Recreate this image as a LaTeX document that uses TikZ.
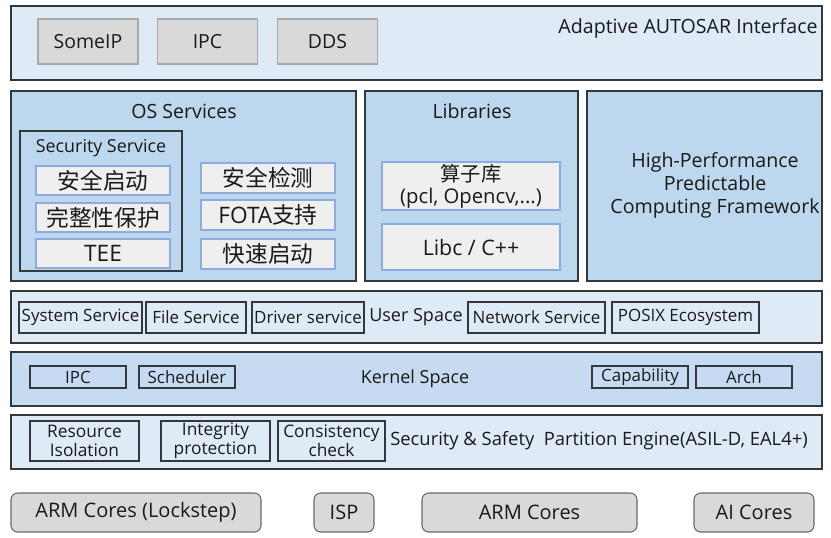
\documentclass[tikz,border=0pt]{standalone}
\usepackage{fontspec}
\setmainfont{Open Sans}
\newfontfamily\cjk{Noto Sans CJK SC}
\usetikzlibrary{positioning}
\definecolor{ink}{HTML}{1A1A1A}
\definecolor{edge}{HTML}{33383D}
\definecolor{paleblue}{HTML}{DEEBF7}
\definecolor{midblue}{HTML}{BDD7EE}
\definecolor{kernblue}{HTML}{C6DAF1}
\definecolor{chipgray}{HTML}{D9D9D9}
\definecolor{chipedge}{HTML}{A8A8A8}
\definecolor{cellgray}{HTML}{EFEFEF}
\definecolor{celledge}{HTML}{8FAADC}

\tikzset{
  sz/.style 2 args={minimum width=#1*0.75pt, minimum height=#2*0.75pt},
  layer/.style={draw=edge, line width=1pt, inner sep=0pt},
  api/.style={fill=chipgray, draw=chipedge, line width=0.8pt, inner sep=0pt, font=\fontsize{14.6}{16}\selectfont},
  cell/.style={fill=cellgray, draw=celledge, line width=0.8pt, inner sep=0pt, font=\fontsize{17}{18}\selectfont},
  tag/.style={draw=edge, line width=0.8pt, inner sep=0pt, font=\fontsize{12.7}{14.2}\selectfont},
  core/.style={fill=chipgray, draw=edge!75, line width=0.8pt, rounded corners=5pt, inner sep=0pt, font=\fontsize{15}{16}\selectfont},
  title/.style={font=\fontsize{14.7}{17.3}\selectfont, align=center},
  plain/.style={font=\fontsize{13.5}{15}\selectfont}
}

\begin{document}
\begin{tikzpicture}[x=0.75pt, y=-0.75pt, text=ink]
    \useasboundingbox (0,0) rectangle (831,537);
    % Adaptive AUTOSAR interface
    \node[layer, fill=paleblue, sz={811}{74}] (aai) at (416.5,43) {};
    \node[title] (aaiT) at (688,28) {Adaptive AUTOSAR Interface};
    \node[api, sz={100}{45}] (someip) at (88,41.5) {SomeIP};
    \node[api, sz={100}{45}] (ipc) at (207.5,41.5) {IPC};
    \node[api, sz={100}{45}] (dds) at (327.5,41.5) {DDS};

    % OS services
    \node[layer, fill=midblue, sz={345}{190}] (os) at (183.5,186) {};
    \node[title] (osT) at (184,111) {OS Services};
    \node[layer, fill=midblue, sz={162}{140}] (sec) at (101,201) {};
    \node[title, font=\fontsize{13.4}{15}\selectfont] (secT) at (101,148) {Security Service};
    \node[cell, sz={134}{29}] (boot) at (103,180.5) {\cjk 安全启动};
    \node[cell, sz={134}{29}] (integ) at (103,217.5) {\cjk 完整性保护};
    \node[cell, sz={134}{29}] (tee) at (103,253.5) {TEE};
    \node[cell, sz={134}{30}] (detect) at (268,178) {\cjk 安全检测};
    \node[cell, sz={134}{30}] (fota) at (268,215) {FOTA{\cjk 支持}};
    \node[cell, sz={134}{30}] (fast) at (268,254) {\cjk 快速启动};

    % Libraries
    \node[layer, fill=midblue, sz={213}{190}] (lib) at (471.5,186) {};
    \node[title] (libT) at (472,111) {Libraries};
    \node[cell, sz={178}{48}, align=center, font=\fontsize{15.2}{16.5}\selectfont] (ops) at (471,186) {{\cjk 算子库}\\(pcl, Opencv,...)};
    \node[cell, sz={178}{46}, font=\fontsize{16}{17}\selectfont] (libc) at (471,247) {Libc / C++};

    % HPC framework
    \node[layer, fill=midblue, sz={235}{190}] (hpc) at (704.5,186) {};
    \node[title] (hpcT) at (715,185) {High-Performance\\Predictable\\Computing Framework};

    % user space
    \node[layer, fill=paleblue, sz={811}{52}] (user) at (416.5,317) {};
    \node[tag, sz={123}{31}] (sys) at (80.5,317.5) {System Service};
    \node[tag, sz={100}{31}] (file) at (196,317.5) {File Service};
    \node[tag, sz={112}{31}] (drv) at (308,317.5) {Driver service};
    \node[plain] (userT) at (416,317.5) {User Space};
    \node[tag, sz={137}{31}] (net) at (536.5,317.5) {Network Service};
    \node[tag, sz={147}{31}] (posix) at (685.5,317.5) {POSIX Ecosystem};

    % kernel space
    \node[layer, fill=kernblue, sz={811}{54}] (kern) at (416.5,379) {};
    \node[tag, sz={96}{22}] (kipc) at (78,377) {IPC};
    \node[tag, sz={96}{22}] (sched) at (187,377) {Scheduler};
    \node[plain] (kernT) at (415,379) {Kernel Space};
    \node[tag, sz={96}{22}] (cap) at (640,377) {Capability};
    \node[tag, sz={96}{22}] (arch) at (744,377) {Arch};

    % partition engine
    \node[layer, fill=paleblue, sz={811}{54}] (part) at (416.5,442) {};
    \node[tag, sz={109}{40}, align=center, font=\fontsize{13}{14.2}\selectfont] (iso) at (84.5,441) {Resource\\Isolation};
    \node[tag, sz={109}{40}, align=center, font=\fontsize{13}{14.2}\selectfont] (prot) at (215.5,441) {Integrity\\protection};
    \node[tag, sz={107}{40}, align=center, font=\fontsize{13}{14.2}\selectfont] (cons) at (331.5,441) {Consistency\\check};
    \node[plain, anchor=west, inner sep=0pt, font=\fontsize{13.8}{15}\selectfont] (partT) at (390,441) {Security \& Safety~~Partition Engine(ASIL-D, EAL4+)};

    % hardware
    \node[core, sz={250}{39}] (lock) at (136,512.5) {ARM Cores (Lockstep)};
    \node[core, sz={60}{39}] (isp) at (344,512.5) {ISP};
    \node[core, sz={215}{39}] (arm) at (529.5,512.5) {ARM Cores};
    \node[core, sz={120}{39}] (ai) at (754,512.5) {AI Cores};
\end{tikzpicture}
\end{document}
